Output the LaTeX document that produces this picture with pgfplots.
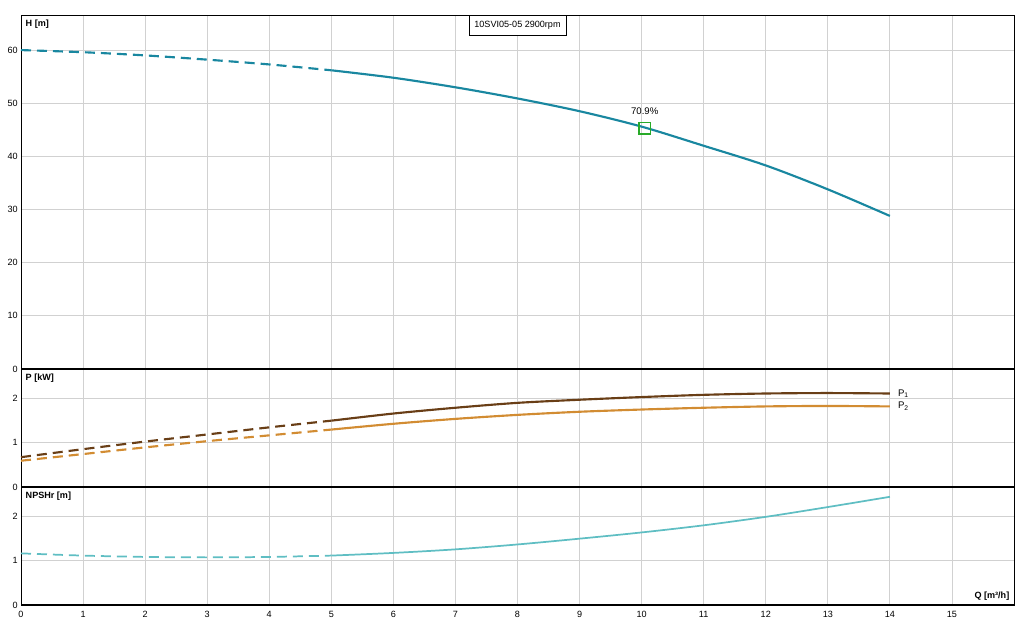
\documentclass[border=0pt]{standalone}
\usepackage{pgfplots}
\pgfplotsset{compat=1.18}
\usepackage{fontspec}
\setmainfont{Liberation Sans}
\definecolor{hcol}{RGB}{25,135,160}
\definecolor{p1col}{RGB}{105,62,22}
\definecolor{p2col}{RGB}{210,140,50}
\definecolor{ncol}{RGB}{95,190,195}
\definecolor{mcol}{RGB}{40,170,40}
\pgfplotsset{
  panel/.style={
    scale only axis,
    width=744.75pt,
    xmin=0, xmax=16,
    xtick={0,1,...,15},
    grid=major,
    major grid style={draw=black!18, line width=0.6pt},
    major tick length=0pt,
    axis line style={black, line width=0.6pt},
    tick label style={font=\fontsize{6.8}{7}\selectfont},
    /pgf/number format/assume math mode=true,
    yticklabel style={xshift=1pt},
    xticklabel style={yshift=-1pt},
    clip=false,
  }
}
\begin{document}
\begin{tikzpicture}
\path[use as bounding box] (0pt,0pt) rectangle (775.5pt,-474.75pt);
% ---------- H panel
\begin{axis}[panel, at={(15.75pt,-11.25pt)}, anchor=north west,
  height=265.5pt, ymin=0, ymax=66.6, ytick={0,10,...,60},
  xticklabels={}]
\addplot[hcol, line width=1.6pt, dash pattern=on 7.5pt off 4.5pt, smooth]
  coordinates {(0,60) (1,59.6) (2,59.0) (3,58.2) (4,57.3) (5,56.2)};
\addplot[hcol, line width=1.6pt, smooth]
  coordinates {(5,56.2) (6,54.8) (7,53.0) (8,50.9) (9,48.5) (10,45.6) (11,42.0) (12,38.3) (13,33.8) (14,28.8)};
\addplot[only marks, mark=square, mark size=4.3pt, mark options={draw=mcol, line width=1.4pt, fill=none}]
  coordinates {(10.05,45.3)};
\node[font=\fontsize{7.2}{8}\selectfont, anchor=south] at (axis cs:10.05,47.0) {70.9\%};
\node[font=\bfseries\fontsize{6.8}{7}\selectfont, anchor=north west] at (rel axis cs:0,1) {H [m]};
\node[draw=black, line width=0.6pt, fill=white, font=\fontsize{6.8}{7}\selectfont, anchor=north, minimum height=15pt, inner xsep=4pt] at (axis cs:8,66.6) {10SVI05-05 2900rpm};
\end{axis}
% ---------- P panel
\begin{axis}[panel, at={(15.75pt,-276.75pt)}, anchor=north west,
  height=88.5pt, ymin=0, ymax=2.65, ytick={0,1,2},
  xticklabels={}]
\addplot[p1col, line width=1.6pt, dash pattern=on 7.5pt off 4.5pt, smooth]
  coordinates {(0,0.67) (1,0.85) (2,1.02) (3,1.18) (4,1.34) (5,1.49)};
\addplot[p1col, line width=1.6pt, smooth]
  coordinates {(5,1.49) (6,1.65) (7,1.78) (8,1.89) (9,1.96) (10,2.02) (11,2.07) (12,2.10) (13,2.11) (14,2.10)}
  node[anchor=west, black, font=\fontsize{7.2}{8}\selectfont, xshift=2pt] {P\textsubscript{1}};
\addplot[p2col, line width=1.6pt, dash pattern=on 7.5pt off 4.5pt, smooth]
  coordinates {(0,0.59) (1,0.74) (2,0.89) (3,1.03) (4,1.16) (5,1.29)};
\addplot[p2col, line width=1.6pt, smooth]
  coordinates {(5,1.29) (6,1.42) (7,1.53) (8,1.62) (9,1.69) (10,1.74) (11,1.78) (12,1.81) (13,1.82) (14,1.81)}
  node[anchor=west, black, font=\fontsize{7.2}{8}\selectfont, xshift=2pt] {P\textsubscript{2}};
\node[font=\bfseries\fontsize{6.8}{7}\selectfont, anchor=north west] at (rel axis cs:0,1) {P [kW]};
\draw[black, line width=1.6pt] (rel axis cs:0,1) -- (rel axis cs:1,1);
\end{axis}
% ---------- NPSH panel
\begin{axis}[panel, at={(15.75pt,-365.25pt)}, anchor=north west,
  height=88.5pt, ymin=0, ymax=2.65, ytick={0,1,2}]
\addplot[ncol, line width=1.3pt, dash pattern=on 7.5pt off 4.5pt, smooth]
  coordinates {(0,1.16) (1,1.11) (2,1.08) (3,1.07) (4,1.08) (5,1.11)};
\addplot[ncol, line width=1.3pt, smooth]
  coordinates {(5,1.11) (6,1.17) (7,1.25) (8,1.36) (9,1.49) (10,1.63) (11,1.79) (12,1.98) (13,2.20) (14,2.43)};
\node[font=\bfseries\fontsize{6.8}{7}\selectfont, anchor=north west] at (rel axis cs:0,1) {NPSHr [m]};
\node[font=\bfseries\fontsize{6.8}{7}\selectfont, anchor=south east] at (rel axis cs:1,0) {Q [m³/h]};
\draw[black, line width=1.6pt] (rel axis cs:0,1) -- (rel axis cs:1,1);
\draw[black, line width=1.2pt] (rel axis cs:0,0) -- (rel axis cs:1,0);
\end{axis}
\end{tikzpicture}
\end{document}
